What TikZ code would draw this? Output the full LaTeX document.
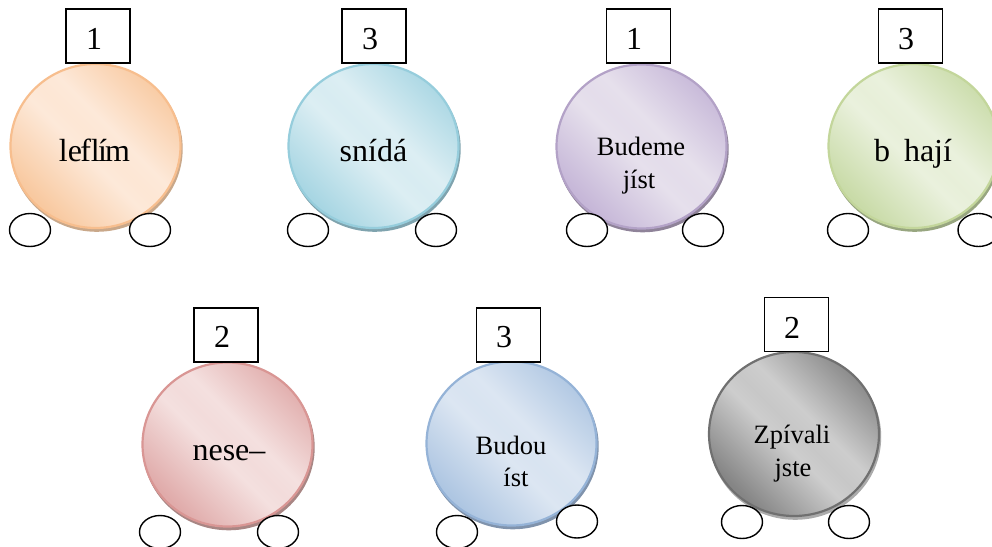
\documentclass[tikz,border=0pt]{standalone}
\usepackage{fontspec}
\setmainfont{Liberation Serif}
\usetikzlibrary{shapes.geometric,shadings}
\newcommand{\mkshade}[5]{%
  \definecolor{#1dk}{HTML}{#2}\definecolor{#1lt}{HTML}{#3}%
  \definecolor{#1edge}{HTML}{#4}\definecolor{#1shad}{HTML}{#5}%
  \pgfdeclarehorizontalshading{#1shade}{100bp}{color(0bp)=(#1dk); color(26bp)=(#1dk); color(46bp)=(#1lt); color(51bp)=(#1dk!8!#1lt); color(57bp)=(#1lt); color(77bp)=(#1dk); color(100bp)=(#1dk)}%
}
\mkshade{org}{F8C9A0}{FDE9D9}{F7BE8E}{C9A88A}
\mkshade{tea}{A8D6E3}{DCEEF3}{96CDDC}{7FA3AE}
\mkshade{pur}{C6B7D8}{E6E0EC}{B3A2C7}{8F8399}
\mkshade{grn}{C9DBA8}{EAF1DD}{C3D69B}{98A680}
\mkshade{red}{E0ABAA}{F4E0DF}{D99694}{A88684}
\mkshade{blu}{AEC6E2}{DCE6F2}{95B3D7}{8093AC}
\mkshade{gry}{858585}{CDCDCD}{707070}{ABABAB}
\tikzset{
  x=1pt,y=-1pt,
  ball/.style={ellipse,minimum width=170pt,minimum height=164pt,inner sep=0pt,draw=#1edge,line width=2.2pt,
    shading=#1shade,shading angle=45,
    preaction={draw=#1shad,line width=2pt,fill=#1shad,transform canvas={shift={(1.2pt,-2.8pt)}}}},
  numbox/.style={draw=black,line width=1.5pt,fill=white,minimum width=64pt,minimum height=54pt,inner sep=0pt},
  digit/.style={font=\fontsize{32}{32}\selectfont,inner sep=0pt,anchor=base},
  wheel/.style={ellipse,draw=black,line width=1.4pt,fill=white,minimum width=41pt,minimum height=33pt,inner sep=0pt},
  big/.style={font=\fontsize{32}{32}\selectfont,inner sep=0pt,anchor=base},
  small/.style={font=\fontsize{26.5}{26.5}\selectfont,inner sep=0pt,anchor=base}
}
\begin{document}
\begin{tikzpicture}
\useasboundingbox (0,0) rectangle (992,546);
\clip (0,0) rectangle (992,546);
% top row
\node[ball=org] (c1) at (95.5,146) {};
\node[numbox] (b1) at (98,36) {};
\node[digit] (d1) at (94,49) {1};
\node[wheel] (w1a) at (30,230) {};
\node[wheel] (w1b) at (150,230) {};
\node[big] (t1) at (94.5,161) {le\kern-1.8pt fl\kern-1.8ptí\kern-1.8ptm};
\node[ball=tea] (c2) at (373.5,146) {};
\node[numbox] (b2) at (374,36) {};
\node[digit] (d2) at (370,49) {3};
\node[wheel] (w2a) at (308,230) {};
\node[wheel] (w2b) at (436,230) {};
\node[big] (t2) at (373.5,161) {snídá};
\node[ball=pur] (c3) at (641.5,146.5) {};
\node[numbox] (b3) at (638.5,36) {};
\node[digit] (d3) at (634,49) {1};
\node[wheel] (w3a) at (587,230) {};
\node[wheel] (w3b) at (703,230) {};
\node[small] (t3a) at (641,155) {Budeme};
\node[small] (t3b) at (639,188) {jíst};
\node[ball=grn] (c4) at (913.5,146) {};
\node[numbox] (b4) at (910.5,36) {};
\node[digit] (d4) at (906,49) {3};
\node[wheel] (w4a) at (848,230) {};
\node[wheel] (w4b) at (978.5,230) {};
\node[big] (t4) at (913,161) {b\hspace{14pt}hají};
% bottom row
\node[ball=red] (c5) at (227.5,444.5) {};
\node[numbox] (b5) at (226,335) {};
\node[digit] (d5) at (222,347) {2};
\node[wheel] (w5a) at (160,532) {};
\node[wheel] (w5b) at (278,532) {};
\node[big] (t5) at (229,460) {nese–};
\node[ball=blu] (c6) at (511.5,443.5) {};
\node[numbox] (b6) at (508.5,335) {};
\node[digit] (d6) at (504,347) {3};
\node[wheel] (w6a) at (457,532) {};
\node[wheel] (w6b) at (577,521.5) {};
\node[small] (t6a) at (511,454) {Budou};
\node[small] (t6b) at (516,486) {íst};
\node[ball=gry] (c7) at (794,434) {};
\node[numbox] (b7) at (796.5,324.5) {};
\node[digit] (d7) at (792,338) {2};
\node[wheel] (w7a) at (742,522) {};
\node[wheel] (w7b) at (849,522) {};
\node[small] (t7a) at (792,443) {Zpívali};
\node[small] (t7b) at (793,476.5) {jste};
\end{tikzpicture}
\end{document}
